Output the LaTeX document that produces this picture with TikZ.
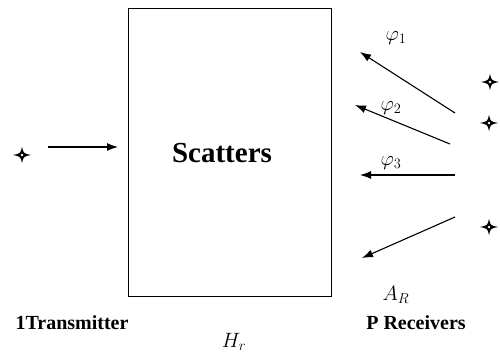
\documentclass[tikz,border=0pt]{standalone}
\usepackage{fontspec}
\setmainfont{Liberation Serif}
\usetikzlibrary{positioning,arrows.meta}

\tikzset{
  ray/.style={line width=1.1pt,-{Latex[length=11pt,width=8pt]}},
  caption/.style={font=\bfseries\fontsize{20}{22}\selectfont},
  sym/.style={font=\fontsize{20}{22}\selectfont}
}

\begin{document}
\begin{tikzpicture}[x=1pt,y=-1pt]
\useasboundingbox (0,0) rectangle (500,363);
% scattering box
\node[draw,line width=1pt,minimum width=203pt,minimum height=288pt] (scat) at (229.5,152.5) {};
\node[font=\bfseries\fontsize{29}{31}\selectfont] (scatlbl) at (222,153) {Scatters};
% antennas
\coordinate (tx) at (22,155);
\coordinate (rx1) at (490,82);
\coordinate (rx2) at (489,123);
\coordinate (rx3) at (489,227);
\foreach \p in {tx,rx1,rx2,rx3}{
  \fill[shift={(\p)}] (-9,0) .. controls (-1.5,-1.5) .. (0,-8)
     .. controls (1.5,-1.5) .. (9,0) .. controls (1.5,1.5) .. (0,8)
     .. controls (-1.5,1.5) .. cycle;
  \fill[white] (\p) circle (1.4pt);
}
% transmitted ray
\coordinate (t0) at (48,147);
\coordinate (t1) at (118,147);
\draw[ray] (t0)--(t1);
% received rays
\coordinate (a0) at (455,113);
\coordinate (a1) at (360,52);
\coordinate (b0) at (450,144);
\coordinate (b1) at (355,105);
\coordinate (c0) at (455,175);
\coordinate (c1) at (360,175);
\coordinate (d0) at (455,217);
\coordinate (d1) at (362,258);
\draw[ray] (a0)--(a1);
\draw[ray] (b0)--(b1);
\draw[ray] (c0)--(c1);
\draw[ray] (d0)--(d1);
\node[sym] (phi1) at (396,38) {$\varphi_1$};
\node[sym] (phi2) at (391,108) {$\varphi_2$};
\node[sym] (phi3) at (391,163) {$\varphi_3$};
% labels
\node[sym] (ar) at (396,295) {$A_R$};
\node[sym] (hr) at (234,342) {$H_r$};
\node[caption] (txl) at (72,323) {1Transmitter};
\node[caption] (rxl) at (416,323) {P Receivers};
\end{tikzpicture}
\end{document}
